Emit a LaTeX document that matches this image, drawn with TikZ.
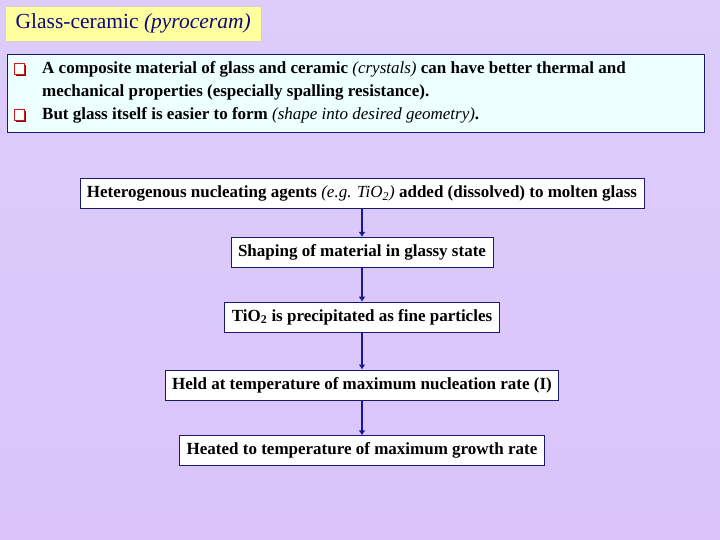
\documentclass[tikz,border=0pt]{standalone}
\usepackage{fontspec}
\setmainfont{Liberation Serif}
\usetikzlibrary{arrows.meta,positioning,shadows}

\definecolor{navyline}{RGB}{25,25,110}
\definecolor{navytext}{RGB}{10,10,120}
\definecolor{arrowblue}{RGB}{25,25,150}
\definecolor{titleyellow}{RGB}{255,255,160}
\definecolor{notecyan}{RGB}{238,255,255}
\definecolor{lavtop}{RGB}{220,205,250}
\definecolor{lavmid}{RGB}{246,242,253}
\definecolor{lavbot}{RGB}{218,196,250}
\definecolor{bulletred}{RGB}{205,25,25}

\begin{document}
\begin{tikzpicture}[
		x=1pt,y=-1pt,
		>={Latex[length=5pt,width=7pt]},
		node distance=30pt,
		stepbox/.style={draw=navyline,fill=white,line width=0.8pt,inner xsep=7pt,
			minimum height=30pt,font=\fontsize{17}{19}\selectfont\bfseries},
		notetext/.style={anchor=base west,inner sep=0pt,font=\fontsize{17}{19}\selectfont\bfseries},
		flow/.style={->,draw=arrowblue,line width=2pt},
		sqbullet/.style={draw=bulletred,fill=white,line width=1pt,minimum size=10.5pt,inner sep=0pt,
			drop shadow={shadow xshift=1.3pt,shadow yshift=-1.3pt,fill=bulletred!60!black,opacity=1}}
	]
	% background
	\shade[top color=lavtop,middle color=lavmid,bottom color=lavbot] (0,0) rectangle (720,540);
	\useasboundingbox (0,0) rectangle (720,540);

	% title
	\node[draw=gray!35,fill=titleyellow,anchor=north west,minimum width=256pt,minimum height=35pt,
		font=\fontsize{21.5}{23}\selectfont,text=navytext] (title) at (5,6)
		{Glass-ceramic \textit{(pyroceram)}};

	% notes
	\node[draw=navyline,fill=notecyan,anchor=north west,minimum width=697pt,minimum height=78pt,
		line width=0.8pt] (notes) at (7,54) {};
	\node[sqbullet] (b1) at (19.5,69) {};
	\node[sqbullet] (b2) at (19.5,115) {};
	\node[notetext] (l1) at (42,74) {A composite material of glass and ceramic \textmd{\textit{(crystals)}} can have better thermal and};
	\node[notetext] (l2) at (42,97) {mechanical properties (especially spalling resistance).};
	\node[notetext] (l3) at (42,120) {But glass itself is easier to form \textmd{\textit{(shape into desired geometry)}}.};

	% flow
	\node[stepbox] (s1) at (362,193.5) {Heterogenous nucleating agents \textmd{\textit{(e.g. TiO\textsubscript{2})}} added (dissolved) to molten glass};
	\node[stepbox,below=28pt of s1] (s2) {Shaping of material in glassy state};
	\node[stepbox,below=34pt of s2] (s3) {TiO\textsubscript{2} is precipitated as fine particles};
	\node[stepbox,below=37pt of s3] (s4) {Held at temperature of maximum nucleation rate (I)};
	\node[stepbox,below=35pt of s4] (s5) {Heated to temperature of maximum growth rate};

	\draw[flow] (s1) -- (s2);
	\draw[flow] (s2) -- (s3);
	\draw[flow] (s3) -- (s4);
	\draw[flow] (s4) -- (s5);
\end{tikzpicture}
\end{document}
